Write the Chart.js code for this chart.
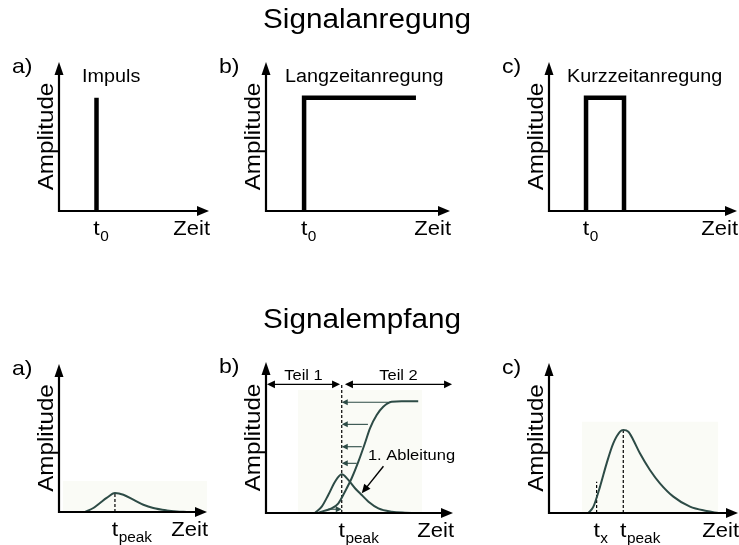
<!DOCTYPE html>
<html>
<head>
<meta charset="utf-8">
<script src="https://cdn.jsdelivr.net/npm/chart.js@4.4.0/dist/chart.umd.min.js"></script>
<style>
  html, body { margin: 0; padding: 0; background: #fff; }
  #wrap { position: relative; width: 739px; height: 545px; overflow: hidden; }
  canvas { position: absolute; }
</style>
</head>
<body>
<div id="wrap">
  <canvas id="ta"></canvas>
  <canvas id="tb"></canvas>
  <canvas id="tc"></canvas>
  <canvas id="ba"></canvas>
  <canvas id="bb"></canvas>
  <canvas id="bc"></canvas>
</div>
<script>
// Signalanregung (top row), units 0..10 on both axes
const impulsX = [2.5, 2.5];
const impulsY = [0, 7.6];
const langX = [2.07, 2.07, 8.15];
const langY = [0, 7.6, 7.6];
const kurzX = [1.97, 1.97, 3.99, 3.99];
const kurzY = [0, 7.6, 7.6, 0];
const t0Pos = [2.5, 2.07, 1.97];

// Signalempfang a)
const pulsAX = [1.76, 2.32, 2.77, 3.22, 3.78, 4.35, 5.02, 5.70, 6.37, 7.28, 7.95, 8.63];
const pulsAY = [0, 0.27, 0.61, 0.95, 1.28, 1.17, 0.83, 0.49, 0.27, 0.11, 0.04, 0];
const peakA = 3.78;
const peakATop = 1.28;
const shadeA = [0.27, 11.1, 2.1];

// Signalempfang b)
const sigmoidX = [2.8, 2.98, 3.51, 3.87, 4.22, 4.58, 4.94, 5.29, 5.56, 5.92, 6.27, 6.72, 7.25, 8.14];
const sigmoidY = [0, 0.09, 0.31, 0.64, 1.41, 2.30, 3.40, 4.62, 5.61, 6.49, 7.04, 7.37, 7.4, 7.4];
const ableitungX = [2.62, 2.98, 3.33, 3.69, 4.05, 4.40, 4.76, 5.12, 5.48, 6.01, 6.72, 7.43, 7.97];
const ableitungY = [0, 0.42, 1.19, 2.07, 2.56, 2.19, 1.64, 1.19, 0.75, 0.31, 0.09, 0.02, 0];
const peakB = 4.05;
const peakBTop = 8.55;
const shadeB = [1.71, 8.34, 8.15];
const teilNames = ['Teil 1', 'Teil 2'];
const teilFrom = [0.05, 4.22];
const teilTo = [3.96, 9.95];
const teilY = 8.52;
const pfeilY = [7.33, 5.87, 4.39, 3.29, 0.25];
const pfeilFrom = [6.52, 5.45, 5.12, 4.85, 3.32];
const ableitungText = [5.45, 3.51];
const ableitungPfeil = [6.28, 3.1, 5.12, 1.3];

// Signalempfang c)
const pulsCX = [2.08, 2.35, 2.70, 3.05, 3.40, 3.76, 3.93, 4.20, 4.46, 4.81, 5.34, 5.87, 6.58, 7.46, 8.34, 8.96];
const pulsCY = [0, 0.42, 1.76, 3.31, 4.64, 5.42, 5.53, 5.42, 4.87, 3.98, 2.87, 1.98, 1.09, 0.42, 0.13, 0];
const peakC = 3.93;
const peakCTop = 5.53;
const txC = 2.52;
const txCTop = 2.09;
const shadeC = [1.73, 8.96, 6.09];

const FONT = 'Arial, "Liberation Sans", sans-serif';
const CURVE = '#2d4b46';
const SHADE = '#fafbf6';
const STRETCH = 1.1;

const pts = (xs, ys) => xs.map((x, i) => ({ x, y: ys[i] }));

const signal = (xs, ys) => ({
  data: pts(xs, ys), borderColor: '#000', borderWidth: 4.5,
  borderJoinStyle: 'miter', borderCapStyle: 'butt', tension: 0
});
const curve = (xs, ys) => ({
  data: pts(xs, ys), borderColor: CURVE, borderWidth: 2, cubicInterpolationMode: 'monotone'
});
const dashed = (x, top) => ({
  data: pts([x, x], [0, top]), borderColor: '#000', borderWidth: 1.2, borderDash: [3, 2]
});
const shade = (b) => ({
  data: pts([b[0], b[0], b[1], b[1]], [0, b[2], b[2], 0]),
  borderWidth: 0, borderColor: 'rgba(0,0,0,0)', backgroundColor: SHADE, fill: 'origin', clip: false
});

function text(ctx, str, x, y, size, align) {
  ctx.save();
  ctx.font = size + 'px ' + FONT;
  ctx.translate(x, y);
  ctx.scale(STRETCH, 1);
  ctx.textAlign = align || 'left';
  ctx.textBaseline = 'alphabetic';
  ctx.fillText(str, 0, 0);
  ctx.restore();
}

function textWidth(ctx, str, size) {
  ctx.save();
  ctx.font = size + 'px ' + FONT;
  const w = ctx.measureText(str).width * STRETCH;
  ctx.restore();
  return w;
}

function arrowHead(ctx, x1, y1, x2, y2, len, half) {
  const a = Math.atan2(y2 - y1, x2 - x1);
  const c = Math.cos(a), s = Math.sin(a);
  ctx.beginPath();
  ctx.moveTo(x2, y2);
  ctx.lineTo(x2 - len * c + half * s, y2 - len * s - half * c);
  ctx.lineTo(x2 - len * c - half * s, y2 - len * s + half * c);
  ctx.closePath();
  ctx.fill();
}

function arrow(ctx, x1, y1, x2, y2, len, half) {
  const a = Math.atan2(y2 - y1, x2 - x1);
  ctx.beginPath();
  ctx.moveTo(x1, y1);
  ctx.lineTo(x2 - (len - 1) * Math.cos(a), y2 - (len - 1) * Math.sin(a));
  ctx.stroke();
  arrowHead(ctx, x1, y1, x2, y2, len, half);
}

function drawTeil(chart) {
  const { ctx, scales: { x, y } } = chart;
  ctx.save();
  ctx.fillStyle = ctx.strokeStyle = '#000';
  ctx.lineWidth = 1.4;
  const yy = y.getPixelForValue(teilY);
  teilNames.forEach((name, i) => {
    const x1 = x.getPixelForValue(teilFrom[i]);
    const x2 = x.getPixelForValue(teilTo[i]);
    ctx.beginPath();
    ctx.moveTo(x1 + 6, yy);
    ctx.lineTo(x2 - 6, yy);
    ctx.stroke();
    arrowHead(ctx, x2, yy, x1, yy, 8, 3.8);
    arrowHead(ctx, x1, yy, x2, yy, 8, 3.8);
    text(ctx, name, (x1 + x2) / 2, yy - 4, 15, 'center');
  });

  // Ableitung label + pointer
  text(ctx, '1. Ableitung', x.getPixelForValue(ableitungText[0]), y.getPixelForValue(ableitungText[1]), 15);
  arrow(ctx,
    x.getPixelForValue(ableitungPfeil[0]), y.getPixelForValue(ableitungPfeil[1]),
    x.getPixelForValue(ableitungPfeil[2]), y.getPixelForValue(ableitungPfeil[3]), 9, 4);

  // projection arrows to t_peak
  ctx.fillStyle = ctx.strokeStyle = CURVE;
  ctx.lineWidth = 1.1;
  const xt = x.getPixelForValue(peakB);
  pfeilY.forEach((v, i) => {
    const yy2 = y.getPixelForValue(v);
    arrow(ctx, x.getPixelForValue(pfeilFrom[i]), yy2, xt, yy2, 6, 3);
  });
  ctx.restore();
}

function drawPanel(chart, p) {
  const { ctx, chartArea: a, scales: { x } } = chart;
  ctx.save();
  ctx.fillStyle = ctx.strokeStyle = '#000';

  // axes with arrow tips
  ctx.lineWidth = 2.2;
  ctx.beginPath();
  ctx.moveTo(a.left, a.top + 10);
  ctx.lineTo(a.left, a.bottom);
  ctx.lineTo(a.right - 10, a.bottom);
  ctx.stroke();
  arrowHead(ctx, a.left, a.bottom, a.left, a.top, 13, 4.5);
  arrowHead(ctx, a.left, a.bottom, a.right, a.bottom, 12, 5);

  // letters, names, axis titles
  text(ctx, p.letter, a.left - 47, a.top + 11, 21);
  if (p.name) text(ctx, p.name, a.left + p.nameDx, a.top + 20, 18);
  text(ctx, 'Zeit', a.right + 1, a.bottom + 24, 20, 'right');

  ctx.save();
  ctx.font = '22px ' + FONT;
  ctx.translate(a.left - 6, (a.top + a.bottom) / 2);
  ctx.rotate(-Math.PI / 2);
  ctx.scale(STRETCH, 1);
  ctx.textAlign = 'center';
  ctx.textBaseline = 'alphabetic';
  ctx.fillText('Amplitude', 0, 0);
  ctx.restore();

  // t marks under the time axis
  p.marks.forEach(m => {
    const px = x.getPixelForValue(m.x);
    const w = textWidth(ctx, 't', 21);
    text(ctx, 't', px - w / 2, a.bottom + 24, 21);
    text(ctx, m.sub, px + w / 2 + 0.5, a.bottom + 30, 14);
  });

  if (p.title) {
    const [bx, by] = p.box;
    text(ctx, p.title[0], p.title[1] - bx, p.title[2] - by, 27);
  }
  ctx.restore();

  if (p.extra) p.extra(chart);
}

const panels = [
  { id: 'ta', box: [0, 0, 213, 260], area: [59, 62, 209, 211], letter: 'a)', name: 'Impuls', nameDx: 23,
    marks: [{ x: t0Pos[0], sub: '0' }], datasets: [signal(impulsX, impulsY)] },
  { id: 'tb', box: [213, 0, 277, 260], area: [266, 62, 450, 211], letter: 'b)', name: 'Langzeitanregung', nameDx: 19,
    marks: [{ x: t0Pos[1], sub: '0' }], datasets: [signal(langX, langY)],
    title: ['Signalanregung', 263, 28] },
  { id: 'tc', box: [490, 0, 249, 260], area: [549, 62, 737, 211], letter: 'c)', name: 'Kurzzeitanregung', nameDx: 18,
    marks: [{ x: t0Pos[2], sub: '0' }], datasets: [signal(kurzX, kurzY)] },
  { id: 'ba', box: [0, 290, 230, 255], area: [59, 364, 207, 512], letter: 'a)',
    marks: [{ x: peakA, sub: 'peak' }],
    datasets: [curve(pulsAX, pulsAY), dashed(peakA, peakATop), shade(shadeA)] },
  { id: 'bb', box: [213, 290, 277, 255], area: [266, 362, 453, 513], letter: 'b)',
    marks: [{ x: peakB, sub: 'peak' }],
    datasets: [curve(sigmoidX, sigmoidY), curve(ableitungX, ableitungY), dashed(peakB, peakBTop), shade(shadeB)],
    title: ['Signalempfang', 263, 328], extra: drawTeil },
  { id: 'bc', box: [490, 290, 249, 255], area: [549, 363, 738, 513], letter: 'c)',
    marks: [{ x: txC, sub: 'x' }, { x: peakC, sub: 'peak' }],
    datasets: [curve(pulsCX, pulsCY), dashed(peakC, peakCTop), dashed(txC, txCTop), shade(shadeC)] }
];

panels.forEach(p => {
  const cv = document.getElementById(p.id);
  const [bx, by, bw, bh] = p.box;
  const [al, at, ar, ab] = p.area;
  cv.width = bw;
  cv.height = bh;
  cv.style.left = bx + 'px';
  cv.style.top = by + 'px';
  new Chart(cv, {
    type: 'line',
    data: { datasets: p.datasets },
    options: {
      responsive: false,
      animation: false,
      events: [],
      layout: {
        autoPadding: false,
        padding: { left: al - bx, top: at - by, right: bx + bw - ar, bottom: by + bh - ab }
      },
      plugins: { legend: { display: false }, tooltip: { enabled: false } },
      elements: { point: { radius: 0 }, line: { fill: false } },
      scales: {
        x: { type: 'linear', min: 0, max: 10, display: false },
        y: { type: 'linear', min: 0, max: 10, display: false }
      }
    },
    plugins: [{ id: 'schema', afterDatasetsDraw(chart) { drawPanel(chart, p); } }]
  });
});
</script>
</body>
</html>
